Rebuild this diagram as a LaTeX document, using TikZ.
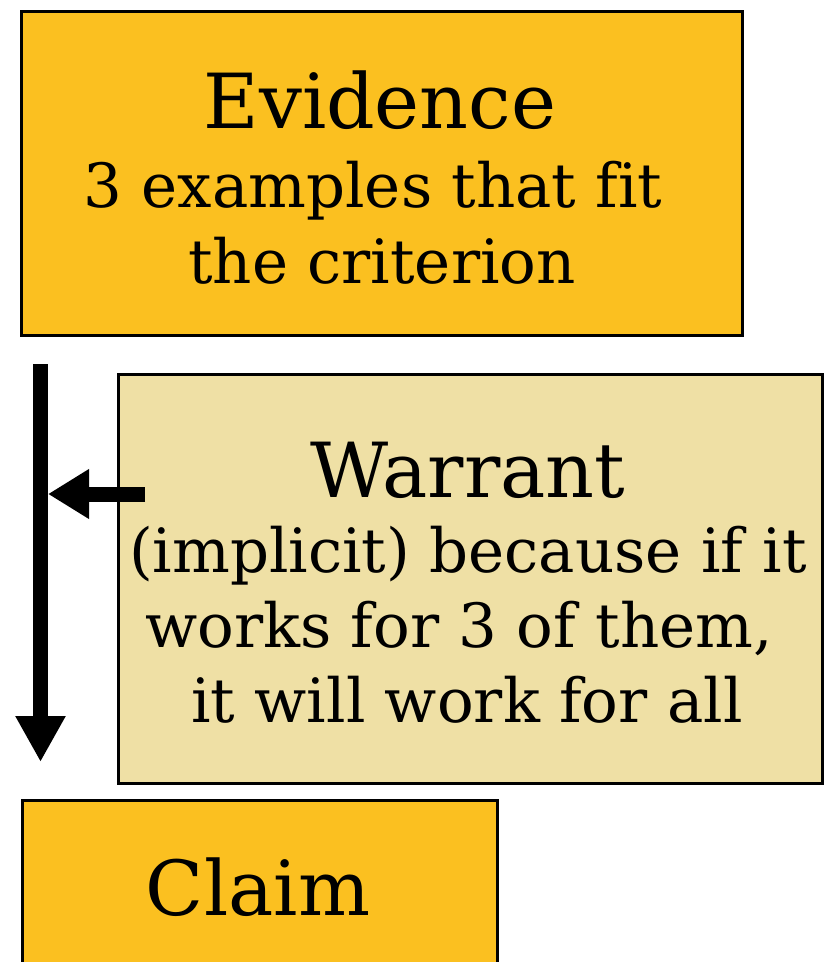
\documentclass[tikz,border=0pt]{standalone}
\usepackage{fontspec}
\setmainfont{DejaVu Serif}[Ligatures=NoCommon]
\usetikzlibrary{arrows.meta}
\definecolor{evfill}{RGB}{251,192,32}
\definecolor{wafill}{RGB}{239,224,165}
\tikzset{
  box/.style={draw=black, line width=3pt},
  ttl/.style={anchor=base, inner sep=0pt, font=\fontsize{76}{84}\selectfont},
  sub/.style={anchor=base, inner sep=0pt, font=\fontsize{61}{69}\selectfont},
  bigarrow/.style={line width=15pt, -{Triangle[length=46pt,width=47pt]}},
}
\begin{document}
\begin{tikzpicture}[x=1pt,y=-1pt]
\clip (0,0) rectangle (830,962);
\fill[white] (0,0) rectangle (830,962);
% boxes
\node[box, fill=evfill, anchor=north west, minimum width=721pt, minimum height=324pt, inner sep=0pt] (ev) at (20,10) {};
\node[box, fill=wafill, anchor=north west, minimum width=704pt, minimum height=409pt, inner sep=0pt] (wa) at (117,373) {};
\node[box, fill=evfill, anchor=north west, minimum width=475pt, minimum height=200pt, inner sep=0pt] (cl) at (21,799) {};
% texts
\node[ttl] (evt) at (380,128) {Evidence};
\node[sub] (ev1) at (373,207) {3 examples that fit};
\node[sub] (ev2) at (382,283) {the criterion};
\node[ttl] (wat) at (468,497) {Warrant};
\node[sub] (wa1) at (468,572) {(implicit) because if it};
\node[sub] (wa2) at (459,647) {works for 3 of them,};
\node[sub] (wa3) at (467,722) {it will work for all};
\node[ttl] (clt) at (258,915) {Claim};
% arrows
\coordinate (vtop) at (40.5,364);
\coordinate (vend) at (40.5,762);
\coordinate (hstart) at (145,494);
\coordinate (hend) at (48,494);
\draw[bigarrow] (vtop) -- (vend);
\draw[bigarrow, -{Triangle[length=41pt,width=47pt]}] (hstart) -- (hend);
\end{tikzpicture}
\end{document}
